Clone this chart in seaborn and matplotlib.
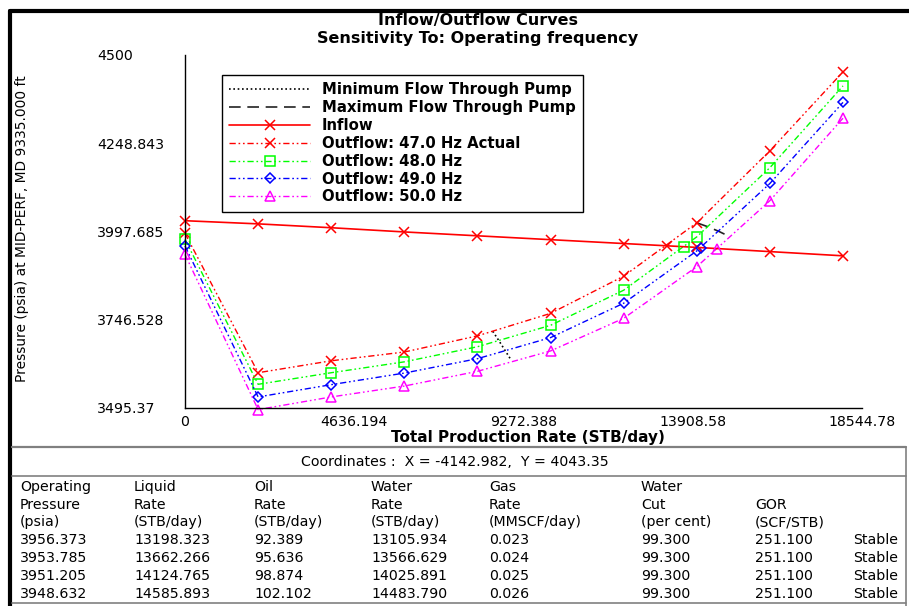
import matplotlib
matplotlib.use("Agg")
import matplotlib.pyplot as plt
from matplotlib.lines import Line2D
import pandas as pd
import seaborn as sns

# ---- curve data -------------------------------------------------------------
rate = [0, 2003, 4005, 6008, 8011, 10013, 12016, 14019, 16021, 18024]
inflow = [4028, 4019, 4008, 3996, 3985, 3974, 3963, 3952, 3940, 3928]
out_47 = [3992, 3595, 3629, 3654, 3700, 3764, 3870, 4022, 4227, 4452]
out_48 = [3975, 3562, 3595, 3626, 3669, 3730, 3830, 3982, 4179, 4412]
out_49 = [3956, 3526, 3561, 3594, 3635, 3695, 3793, 3942, 4134, 4365]
out_50 = [3932, 3490, 3526, 3557, 3599, 3657, 3750, 3897, 4085, 4320]

# pump operating envelope, one point per frequency (47, 48, 49, 50 Hz)
min_flow_rate = [8430, 8600, 8770, 8940]
min_flow_pres = [3713, 3686, 3658, 3630]
max_flow_rate = [14019, 14317, 14615, 14913]
max_flow_pres = [4022, 4011, 3998, 3983]

# solution table
op_pressure = [3956.373, 3953.785, 3951.205, 3948.632]
liquid_rate = [13198.323, 13662.266, 14124.765, 14585.893]
oil_rate = [92.389, 95.636, 98.874, 102.102]
water_rate = [13105.934, 13566.629, 14025.891, 14483.790]
gas_rate = [0.023, 0.024, 0.025, 0.026]
water_cut = [99.300, 99.300, 99.300, 99.300]
gor = [251.100, 251.100, 251.100, 251.100]
status = ["Stable", "Stable", "Stable", "Stable"]

x_ticks = [0, 4636.194, 9272.388, 13908.58, 18544.78]
x_tick_labels = ["0", "4636.194", "9272.388", "13908.58", "18544.78"]
y_ticks = [3495.37, 3746.528, 3997.685, 4248.843, 4500]
y_tick_labels = ["3495.37", "3746.528", "3997.685", "4248.843", "4500"]

outflows = [
    ("Outflow: 47.0 Hz Actual", out_47, "#FF0000", "x", 7.5),
    ("Outflow: 48.0 Hz", out_48, "#00FF00", "s", 6.5),
    ("Outflow: 49.0 Hz", out_49, "#0000FF", "D", 5.3),
    ("Outflow: 50.0 Hz", out_50, "#FF00FF", "^", 7.5),
]

# ---- styling ----------------------------------------------------------------
sns.set_theme(style="white")
plt.rcParams["font.family"] = ["DejaVu Sans"]
plt.rcParams["text.color"] = "black"

W, H = 909, 606
fig = plt.figure(figsize=(W / 100, H / 100), dpi=100)
fig.patch.set_facecolor("white")


def fx(px):
    return px / W


def fy(py):
    return 1 - py / H


ax_l, ax_r, ax_t, ax_b = 185, 862, 55, 407.7
ax = fig.add_axes([fx(ax_l), fy(ax_b), (ax_r - ax_l) / W, (ax_b - ax_t) / H])
ax.set_facecolor("white")

dash_dot_dot = (0, (4.5, 2.0, 1.2, 2.0, 1.2, 2.0))

handles = {}

# envelope lines
sns.lineplot(x=min_flow_rate, y=min_flow_pres, ax=ax, color="black",
             linestyle=(0, (1.0, 1.6)), linewidth=1.2, sort=False,
             estimator=None, label="Minimum Flow Through Pump")
handles["min"] = ax.lines[-1]
sns.lineplot(x=max_flow_rate, y=max_flow_pres, ax=ax, color="#222222",
             linestyle=(0, (7, 4)), linewidth=1.2, sort=False,
             estimator=None, label="Maximum Flow Through Pump")
handles["max"] = ax.lines[-1]

# outflow curves
out_handles = []
for label, pres, color, marker, ms in outflows:
    df = pd.DataFrame({"rate": rate, "pressure": pres})
    sns.lineplot(data=df, x="rate", y="pressure", ax=ax, color=color,
                 linestyle=dash_dot_dot, linewidth=1.0, marker=marker,
                 markersize=ms, markerfacecolor="none", markeredgecolor=color,
                 markeredgewidth=1.1, sort=False, estimator=None,
                 clip_on=False, label=label)
    out_handles.append(ax.lines[-1])

# inflow curve
df_in = pd.DataFrame({"rate": rate, "pressure": inflow})
sns.lineplot(data=df_in, x="rate", y="pressure", ax=ax, color="#FF0000",
             linewidth=1.2, marker="x", markersize=7.5,
             markeredgecolor="#FF0000", markeredgewidth=1.1, sort=False,
             estimator=None, clip_on=False, label="Inflow")
handles["inflow"] = ax.lines[-1]

# operating points where each outflow curve meets the inflow curve
for (label, pres, color, marker, ms), q, p in zip(outflows, liquid_rate, op_pressure):
    ax.plot([q], [p], linestyle="none", marker=marker, markersize=ms,
            markerfacecolor="none", markeredgecolor=color,
            markeredgewidth=1.1, clip_on=False)

ax.set_xlim(0, 18544.78)
ax.set_ylim(3495.37, 4500)
ax.set_xticks(x_ticks)
ax.set_xticklabels(x_tick_labels)
ax.set_yticks(y_ticks)
ax.set_yticklabels(y_tick_labels)

for side in ["top", "right"]:
    ax.spines[side].set_visible(False)
for side in ["left", "bottom"]:
    ax.spines[side].set_color("black")
    ax.spines[side].set_linewidth(1.0)

ax.tick_params(axis="both", direction="out", length=3.6, width=1.0,
               color="black", labelcolor="black", labelsize=10.2)
ax.tick_params(axis="x", pad=1.5)
ax.tick_params(axis="y", pad=59.8)
for lbl in ax.get_yticklabels():
    lbl.set_horizontalalignment("left")

ax.set_xlabel("Total Production Rate (STB/day)", fontsize=11,
              fontweight="bold", color="black")
ax.xaxis.set_label_coords(0.5066, -0.062)
ax.set_ylabel("")

fig.text(fx(22), fy(229), "Pressure (psia) at MID-PERF, MD 9335.000 ft",
         rotation=90, ha="center", va="center", fontsize=9.9, color="black")

# legend
leg_handles = [handles["min"], handles["max"], handles["inflow"]] + out_handles
leg_labels = [h.get_label() for h in leg_handles]
leg = ax.legend(leg_handles, leg_labels, loc="upper left",
                bbox_to_anchor=((222 - ax_l) / (ax_r - ax_l),
                                (ax_b - 75) / (ax_b - ax_t)),
                bbox_transform=ax.transAxes, borderaxespad=0,
                frameon=True, fancybox=False, shadow=False,
                edgecolor="black", framealpha=1, handlelength=5.4,
                handletextpad=0.8, labelspacing=0.19, borderpad=0.5,
                numpoints=1, prop={"weight": "bold", "size": 10.7})
leg.get_frame().set_linewidth(1.0)

# titles
fig.text(fx(478), fy(20), "Inflow/Outflow Curves", ha="center", va="center",
         fontsize=11.5, fontweight="bold")
fig.text(fx(478), fy(39), "Sensitivity To: Operating frequency", ha="center",
         va="center", fontsize=11.5, fontweight="bold")

# window frame and panel separators
def hline(y, x0, x1, color, lw):
    fig.add_artist(Line2D([fx(x0), fx(x1)], [fy(y), fy(y)],
                          transform=fig.transFigure, color=color, linewidth=lw))


def vline(x, y0, y1, color, lw):
    fig.add_artist(Line2D([fx(x), fx(x)], [fy(y0), fy(y1)],
                          transform=fig.transFigure, color=color, linewidth=lw))


hline(11, 10, 909, "black", 3.0)
vline(10, 11, 606, "black", 3.0)
hline(447, 12, 906, "#808080", 1.6)
hline(476, 12, 906, "#808080", 1.2)
vline(906, 447, 606, "#808080", 1.2)
hline(603, 12, 906, "#808080", 1.2)

fig.text(fx(455), fy(462), "Coordinates :  X = -4142.982,  Y = 4043.35",
         ha="center", va="center", fontsize=10.2)

# results table
col_x = [20, 134, 254, 371, 489, 641, 755, 853]
headers = [
    ["Operating", "Pressure", "(psia)"],
    ["Liquid", "Rate", "(STB/day)"],
    ["Oil", "Rate", "(STB/day)"],
    ["Water", "Rate", "(STB/day)"],
    ["Gas", "Rate", "(MMSCF/day)"],
    ["Water", "Cut", "(per cent)"],
    ["", "GOR", "(SCF/STB)"],
    ["", "", ""],
]
row_y = [487, 505, 522, 540, 558, 576, 594]
for cx, head in zip(col_x, headers):
    for ry, txt in zip(row_y[:3], head):
        fig.text(fx(cx), fy(ry), txt, ha="left", va="center", fontsize=10.2)

columns = [
    [f"{v:.3f}" for v in op_pressure],
    [f"{v:.3f}" for v in liquid_rate],
    [f"{v:.3f}" for v in oil_rate],
    [f"{v:.3f}" for v in water_rate],
    [f"{v:.3f}" for v in gas_rate],
    [f"{v:.3f}" for v in water_cut],
    [f"{v:.3f}" for v in gor],
    status,
]
for cx, col in zip(col_x, columns):
    for ry, txt in zip(row_y[3:], col):
        fig.text(fx(cx), fy(ry), txt, ha="left", va="center", fontsize=10.2)

fig.savefig("out.png", dpi=100, facecolor="white")
